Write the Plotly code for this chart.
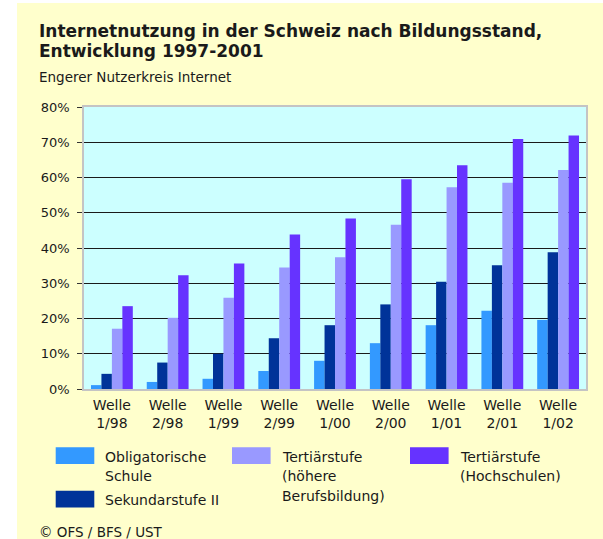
import plotly.graph_objects as go

# Survey waves and internet usage share (%) by level of education
waves = ["1/98", "2/98", "1/99", "2/99", "1/00", "2/00", "1/01", "2/01", "1/02"]
wave_labels = ["Welle<br>" + w for w in waves]

obligatorische_schule = [1.1, 2.0, 2.9, 5.1, 8.0, 13.0, 18.1, 22.2, 19.6]
sekundarstufe_2 = [4.3, 7.5, 10.0, 14.4, 18.1, 24.0, 30.4, 35.1, 38.8]
tertiaer_berufsbildung = [17.1, 20.2, 25.9, 34.5, 37.4, 46.6, 57.2, 58.5, 62.1]
tertiaer_hochschulen = [23.5, 32.3, 35.6, 43.8, 48.4, 59.5, 63.5, 70.9, 71.9]

series_names = [
    "Obligatorische<br>Schule",
    "Sekundarstufe II",
    "Tertiärstufe<br>(höhere<br>Berufsbildung)",
    "Tertiärstufe<br>(Hochschulen)",
]
series_values = [obligatorische_schule, sekundarstufe_2,
                 tertiaer_berufsbildung, tertiaer_hochschulen]
series_colors = ["#3399FF", "#003399", "#9999FF", "#6633FF"]

y_ticks = [0, 10, 20, 30, 40, 50, 60, 70, 80]
y_tick_labels = [f"{v}%" for v in y_ticks]

# Page geometry (pixels)
W, H = 603, 539
ML, MR, MT, MB = 84, 17, 107, 150
PW, PH = W - ML - MR, H - MT - MB
FONT = "DejaVu Sans"
TXT = "#1a1a1a"


def px_x(x):
    return (x - ML) / PW


def px_y(y):
    return (H - MB - y) / PH


fig = go.Figure()
for name, vals, col in zip(series_names, series_values, series_colors):
    fig.add_trace(go.Bar(
        x=wave_labels, y=vals, name=name.replace("<br>", " "),
        marker=dict(color=col, line=dict(width=0)),
        showlegend=False,
    ))

shapes = [
    # white margin strips outside the yellow panel
    dict(type="rect", xref="paper", yref="paper", layer="below",
         x0=px_x(0), x1=px_x(17), y0=px_y(H), y1=px_y(0),
         fillcolor="white", line=dict(width=0)),
    dict(type="rect", xref="paper", yref="paper", layer="below",
         x0=px_x(0), x1=px_x(W), y0=px_y(3), y1=px_y(0),
         fillcolor="white", line=dict(width=0)),
]

annotations = [
    dict(text="Internetnutzung in der Schweiz nach Bildungsstand,",
         x=px_x(36.5), y=px_y(31), font=dict(family=FONT, size=17, color=TXT, weight="bold")),
    dict(text="Entwicklung 1997-2001",
         x=px_x(36.5), y=px_y(51.5), font=dict(family=FONT, size=17, color=TXT, weight="bold")),
    dict(text="Engerer Nutzerkreis Internet",
         x=px_x(36.5), y=px_y(77.5), font=dict(family=FONT, size=13.5, color=TXT)),
    dict(text="© OFS / BFS / UST",
         x=px_x(36.5), y=px_y(531.5), font=dict(family=FONT, size=13.5, color=TXT)),
]

# Custom legend: swatch position (left, top) in pixels for each series
legend_pos = [(55.7, 447.3), (55.7, 490.7), (232.0, 447.3), (410.0, 447.3)]
SW, SH, LINE = 38.6, 16.7, 19.6
for name, col, (lx, ly) in zip(series_names, series_colors, legend_pos):
    shapes.append(dict(type="rect", xref="paper", yref="paper",
                       x0=px_x(lx), x1=px_x(lx + SW), y0=px_y(ly + SH), y1=px_y(ly),
                       fillcolor=col, line=dict(width=0)))
    for i, line in enumerate(name.split("<br>")):
        annotations.append(dict(text=line, x=px_x(lx + 47.5), y=px_y(ly + 9.2 + i * LINE),
                                font=dict(family=FONT, size=14, color=TXT)))

for a in annotations:
    a.update(xref="paper", yref="paper", xanchor="left", yanchor="middle",
             showarrow=False)

fig.update_layout(
    width=W, height=H,
    margin=dict(l=ML, r=MR, t=MT, b=MB, pad=0),
    paper_bgcolor="#FFFFCC",
    plot_bgcolor="#CCFFFF",
    barmode="group", bargap=0.25, bargroupgap=0,
    showlegend=False,
    shapes=shapes,
    annotations=annotations,
    font=dict(family=FONT, color=TXT),
)

fig.update_xaxes(
    type="category",
    showgrid=False, ticks="",
    showline=True, mirror=True, linecolor="#C4C4C4", linewidth=1.5,
    tickfont=dict(family=FONT, size=14, color=TXT),
    ticklabelstandoff=2,
)
fig.update_yaxes(
    range=[0, 80], tickmode="array", tickvals=y_ticks, ticktext=y_tick_labels,
    showgrid=True, gridcolor="#1a1a1a", gridwidth=1.4,
    showline=True, mirror=True, linecolor="#C4C4C4", linewidth=1.5,
    ticks="outside", ticklen=5, tickcolor="#333333", tickwidth=1,
    tickfont=dict(family=FONT, size=13, color=TXT),
    ticklabelstandoff=5,
    zeroline=False,
)

fig.write_html("out.html")
